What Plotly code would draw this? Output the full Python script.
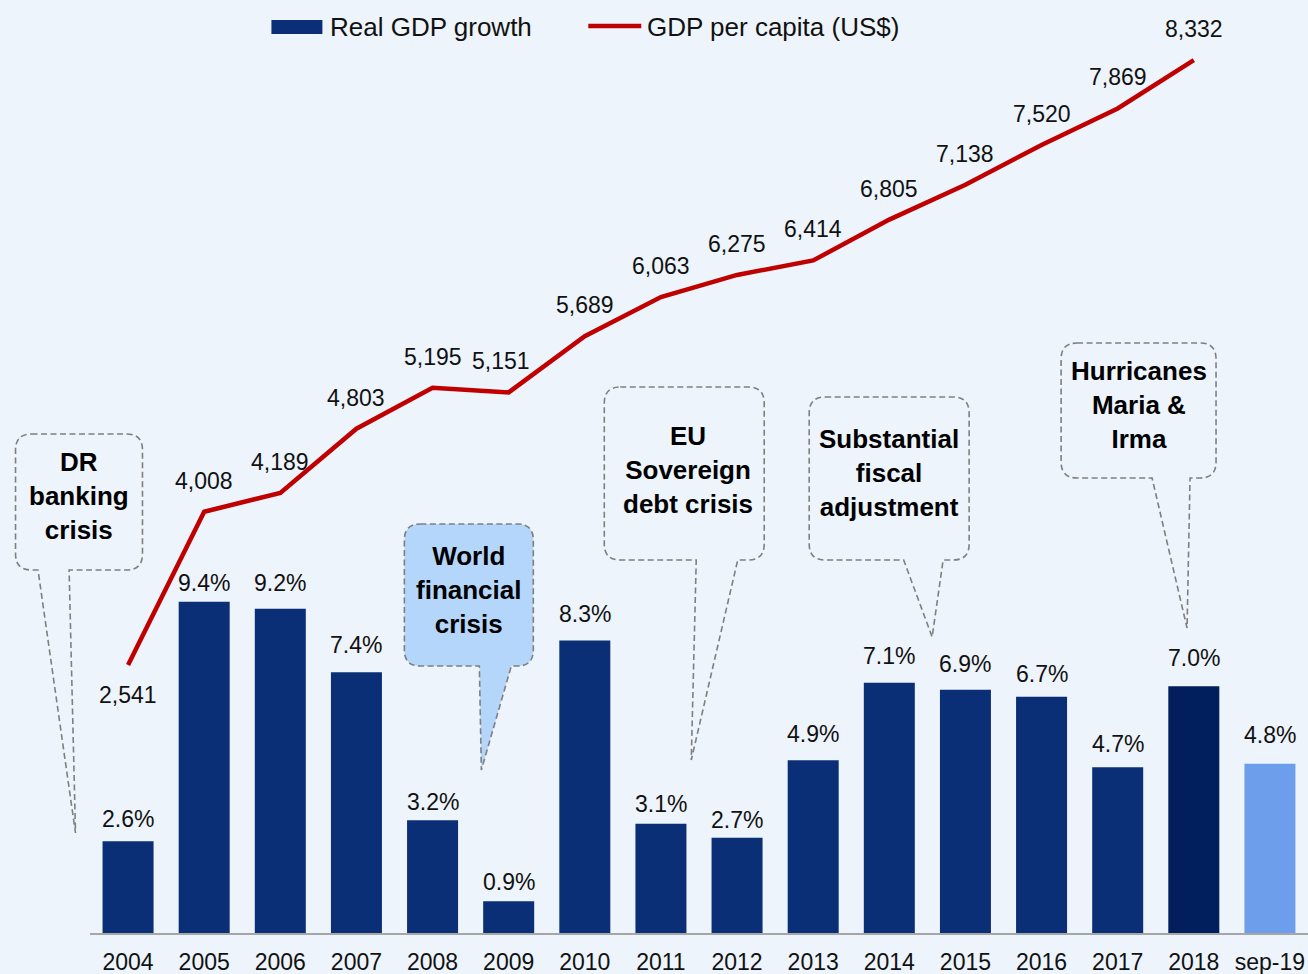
import plotly.graph_objects as go

# ---- data -----------------------------------------------------------------
years = ["2004", "2005", "2006", "2007", "2008", "2009", "2010", "2011",
         "2012", "2013", "2014", "2015", "2016", "2017", "2018", "sep-19"]
real_gdp_growth = [2.6, 9.4, 9.2, 7.4, 3.2, 0.9, 8.3, 3.1, 2.7, 4.9,
                   7.1, 6.9, 6.7, 4.7, 7.0, 4.8]
gdp_per_capita_years = years[:15]
gdp_per_capita = [2541, 4008, 4189, 4803, 5195, 5151, 5689, 6063, 6275,
                  6414, 6805, 7138, 7520, 7869, 8332]

# ---- styling ----------------------------------------------------------------
NAVY = "#0b2f76"
NAVY_DARK = "#001f5c"
LIGHT_BLUE = "#6d9eeb"
RED = "#c00000"
BG = "#edf4fb"
FONT = "Liberation Sans, Arial, sans-serif"

bar_colors = [NAVY] * 14 + [NAVY_DARK, LIGHT_BLUE]
# vertical gap (px) between each bar top and the centre of its label
bar_label_gap = [21, 18, 25, 26, 17, 18, 25, 19, 17, 25, 26, 25, 22, 22, 27, 28]

W, H = 1308, 974
ML, MB, MT, MR = 89.5, 41, 0, 0
PLOT_W = W - ML - MR
PLOT_H = H - MB - MT


def fx(px):
    """Page pixel x -> paper fraction."""
    return (px - ML) / PLOT_W


def fy(py):
    """Page pixel y -> paper fraction."""
    return (H - MB - py) / PLOT_H


fig = go.Figure()

fig.add_trace(go.Bar(
    x=years, y=real_gdp_growth, name="Real GDP growth",
    marker=dict(color=bar_colors, line=dict(width=0)),
    showlegend=False, hoverinfo="x+y",
))

fig.add_trace(go.Scatter(
    x=gdp_per_capita_years, y=gdp_per_capita, yaxis="y2",
    name="GDP per capita (US$)", mode="lines",
    line=dict(color=RED, width=4.5),
    showlegend=False,
))

annotations = []

# value labels above the bars (category positions given by serial index)
for i, g in enumerate(real_gdp_growth):
    annotations.append(dict(
        x=i, y=g, xref="x", yref="y", text=f"{g:.1f}%",
        showarrow=False, yshift=bar_label_gap[i] + 1,
        font=dict(family=FONT, size=23, color="#111111"),
    ))

# value labels along the per-capita line
for i, v in enumerate(gdp_per_capita):
    below = i == 0
    annotations.append(dict(
        x=i, y=v, xref="x", yref="y2", text=f"{v:,}",
        showarrow=False, yshift=-30 if below else 31,
        xshift=-8 if gdp_per_capita_years[i] == "2009" else 0,
        font=dict(family=FONT, size=23, color="#111111"),
    ))


def callout_path(x0, y0, x1, y1, gap_l, gap_r, tip, r=16):
    tx, ty = tip
    pts = [
        ("M", (x0 + r, y0)),
        ("L", (x1 - r, y0)),
        ("Q", (x1, y0), (x1, y0 + r)),
        ("L", (x1, y1 - r)),
        ("Q", (x1, y1), (x1 - r, y1)),
        ("L", (gap_r, y1)),
        ("L", (tx, ty)),
        ("L", (gap_l, y1)),
        ("L", (x0 + r, y1)),
        ("Q", (x0, y1), (x0, y1 - r)),
        ("L", (x0, y0 + r)),
        ("Q", (x0, y0), (x0 + r, y0)),
    ]
    out = []
    for seg in pts:
        cmd = seg[0]
        coords = " ".join(f"{fx(p[0]):.5f},{fy(p[1]):.5f}" for p in seg[1:])
        out.append(f"{cmd}{coords}")
    return " ".join(out) + " Z"


callouts = [
    # (text, box x0, y0, x1, y1, tail gap left, tail gap right, tip, fill)
    ("DR<br>banking<br>crisis", 15, 434, 142, 570, 37.5, 68.6, (75, 833), None),
    ("World<br>financial<br>crisis", 404, 524, 533, 666, 479, 511, (481, 770), "#b4d6fa"),
    ("EU<br>Sovereign<br>debt crisis", 604, 387, 764, 560, 696, 737.5, (691, 760), None),
    ("Substantial<br>fiscal<br>adjustment", 809, 397, 969, 560, 903.5, 943, (932, 637), None),
    ("Hurricanes<br>Maria &<br>Irma", 1061, 343, 1216, 478, 1152, 1190, (1187, 628), None),
]

shapes = []
for text, x0, y0, x1, y1, gl, gr, tip, fill in callouts:
    shapes.append(dict(
        type="path", xref="paper", yref="paper",
        path=callout_path(x0, y0, x1, y1, gl, gr, tip),
        line=dict(color="#7f7f7f", width=1.6, dash="6px,3.5px"),
        fillcolor=fill if fill else "rgba(0,0,0,0)",
        layer="above",
    ))

text_centers = {
    "DR<br>banking<br>crisis": (78, 496),
    "World<br>financial<br>crisis": (468, 590),
    "EU<br>Sovereign<br>debt crisis": (688, 470),
    "Substantial<br>fiscal<br>adjustment": (889, 473),
    "Hurricanes<br>Maria &<br>Irma": (1139, 405),
}
for text, (cx, cy) in text_centers.items():
    annotations.append(dict(
        x=fx(cx), y=fy(cy), xref="paper", yref="paper", text=f"<b>{text}</b>",
        showarrow=False, xanchor="center", yanchor="middle",
        font=dict(family=FONT, size=26, color="#000000"),
    ))

# legend drawn by hand: wide bar swatch and a red line sample
shapes.append(dict(
    type="rect", xref="paper", yref="paper",
    x0=fx(271), x1=fx(322), y0=fy(34), y1=fy(20),
    fillcolor=NAVY, line=dict(width=0), layer="above",
))
shapes.append(dict(
    type="line", xref="paper", yref="paper",
    x0=fx(588), x1=fx(641), y0=fy(26), y1=fy(26),
    line=dict(color=RED, width=4.5), layer="above",
))
annotations.append(dict(
    x=fx(328), y=fy(27), xref="paper", yref="paper", text="Real GDP growth",
    showarrow=False, xanchor="left", yanchor="middle",
    font=dict(family=FONT, size=26, color="#111111"),
))
annotations.append(dict(
    x=fx(645), y=fy(27), xref="paper", yref="paper", text="GDP per capita (US$)",
    showarrow=False, xanchor="left", yanchor="middle",
    font=dict(family=FONT, size=26, color="#111111"),
))

fig.update_layout(
    width=W, height=H,
    margin=dict(l=ML, r=MR, t=MT, b=MB, pad=0),
    paper_bgcolor=BG, plot_bgcolor="rgba(0,0,0,0)",
    bargap=0.33,
    font=dict(family=FONT, color="#111111"),
    xaxis=dict(
        type="category", range=[-0.5, 15.5],
        showline=True, linecolor="#a6a6a6", linewidth=2,
        showgrid=False, zeroline=False, ticks="",
        ticklabelstandoff=7,
        tickfont=dict(family=FONT, size=23, color="#111111"),
    ),
    yaxis=dict(range=[0, 26.47], visible=False, showgrid=False),
    yaxis2=dict(range=[-24, 8907], overlaying="y", visible=False,
                showgrid=False),
    shapes=shapes,
    annotations=annotations,
    showlegend=False,
)

fig.write_html("out.html")
